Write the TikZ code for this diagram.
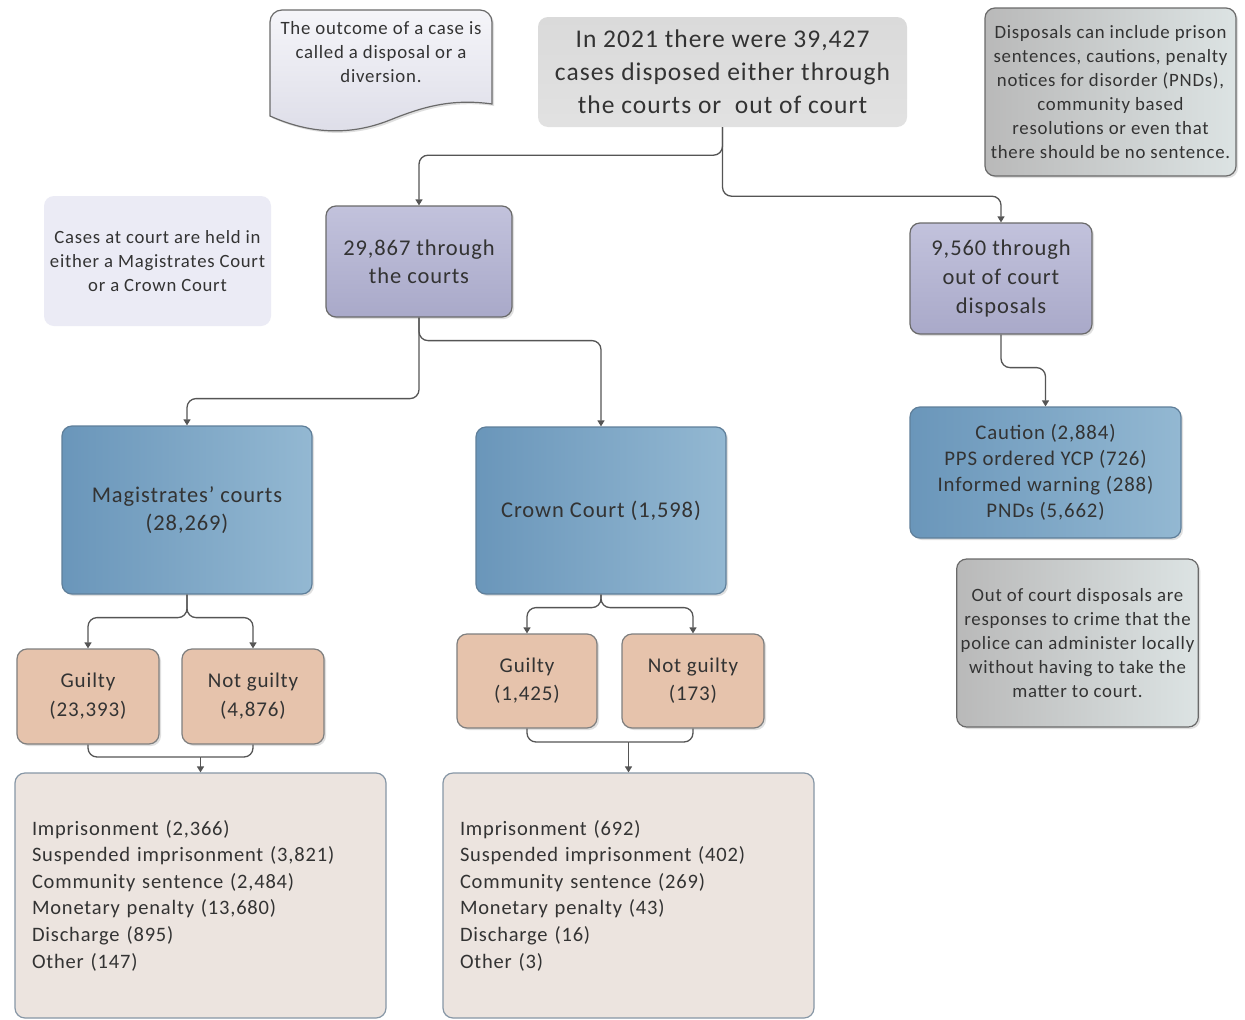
\documentclass[tikz,border=0pt]{standalone}
\usepackage{fontspec}
\setmainfont{Carlito}[LetterSpace=4]
\usetikzlibrary{arrows.meta,shadows,calc}
\definecolor{txt}{HTML}{333333}
\definecolor{linec}{HTML}{555555}
\definecolor{bordc}{HTML}{6A6A6A}
\definecolor{purpA}{HTML}{C2C2DC}
\definecolor{purpB}{HTML}{A9A9C9}
\definecolor{blueA}{HTML}{6A96BA}
\definecolor{blueB}{HTML}{93B8D2}
\definecolor{bluebd}{HTML}{5F7F9A}
\definecolor{peach}{HTML}{E6C3AC}
\definecolor{peachbd}{HTML}{7F7F7F}
\definecolor{greyA}{HTML}{B9B9B9}
\definecolor{greyB}{HTML}{DCE3E3}
\definecolor{listf}{HTML}{ECE4DF}
\definecolor{listbd}{HTML}{8797A6}
\definecolor{topf}{HTML}{DADADA}
\definecolor{leftf}{HTML}{EBEBF5}
\definecolor{docA}{HTML}{DDDDE8}
\definecolor{docB}{HTML}{F5F5F9}
\begin{document}
\begin{tikzpicture}[x=1pt,y=-1pt,
  every node/.style={text=txt, align=center, inner sep=4pt},
  box/.style={rounded corners=10pt, draw=bordc, line width=1.2pt,
     drop shadow={opacity=0.25, shadow xshift=2pt, shadow yshift=-2pt}},
  purplebox/.style={box, top color=purpA, bottom color=purpB},
  bluebox/.style={box, draw=bluebd, left color=blueA, right color=blueB},
  peachbox/.style={box, draw=peachbd, fill=peach},
  greynote/.style={box, draw=bordc, left color=greyA, right color=greyB},
  listbox/.style={rounded corners=10pt, draw=listbd, line width=1.2pt, fill=listf,
     text width=337pt, align=left, inner sep=0pt},
  conn/.style={draw=linec, line width=1.3pt, rounded corners=9pt},
  arr/.style={conn, -{Triangle[width=7pt,length=6pt]}},
]
\useasboundingbox (0,0) rectangle (1245,1020);
\fill[white] (0,0) rectangle (1245,1020);

% document-shaped note
\path[draw=bordc, line width=1.2pt, top color=docB, bottom color=docA,
  drop shadow={opacity=0.25, shadow xshift=2pt, shadow yshift=-2pt}]
  (270,116) {[rounded corners=12pt] -- (270,10) -- (492,10)} -- (492,104)
  .. controls (450,98) and (420,108) .. (390,120)
  .. controls (350,136) and (310,134) .. (270,116) -- cycle;
\node[font=\fontsize{18.8}{24}\selectfont] (docnote) at (381,52)
  {The outcome of a case is\\called a disposal or a\\diversion.};

% top box
\node[rounded corners=10pt, top color=topf, bottom color=topf!80!white,
  minimum width=369pt, minimum height=110pt,
  font=\fontsize{25.5}{33}\selectfont] (top) at (722.5,72)
  {In 2021 there were 39,427\\cases disposed either through\\the courts or\ \ out of court};

% right grey note
\node[greynote, minimum width=251pt, minimum height=168pt,
  font=\fontsize{18.8}{24}\selectfont] (note1) at (1110.5,92)
  {Disposals can include prison\\sentences, cautions, penalty\\notices for disorder (PNDs),\\community based\\resolutions or even that\\there should be no sentence.};

% left note
\node[rounded corners=10pt, fill=leftf, minimum width=227pt, minimum height=130pt,
  font=\fontsize{18.7}{24}\selectfont] (note2) at (157.5,261)
  {Cases at court are held in\\either a Magistrates Court\\or a Crown Court};

% purple boxes
\node[purplebox, minimum width=186pt, minimum height=111pt,
  font=\fontsize{22.5}{28}\selectfont] (court) at (419,261.5)
  {29,867 through\\the courts};
\node[purplebox, minimum width=182pt, minimum height=111pt,
  font=\fontsize{22.5}{29}\selectfont] (ooc) at (1001,278.5)
  {9,560 through\\out of court\\disposals};

% blue boxes
\node[bluebox, minimum width=250pt, minimum height=168pt,
  font=\fontsize{22.5}{28}\selectfont] (mag) at (187,510)
  {Magistrates' courts\\(28,269)};
\node[bluebox, minimum width=250pt, minimum height=167pt,
  font=\fontsize{22.5}{28}\selectfont] (crown) at (601,510.5)
  {Crown Court (1,598)};
\node[bluebox, minimum width=271pt, minimum height=131pt,
  font=\fontsize{20.8}{26}\selectfont] (oocl) at (1045.5,472.5)
  {Caution (2,884)\\PPS ordered YCP (726)\\Informed warning (288)\\PNDs (5,662)};

% peach boxes
\node[peachbox, minimum width=142pt, minimum height=95pt,
  font=\fontsize{21}{29}\selectfont] (g1) at (88,696.5) {Guilty\\(23,393)};
\node[peachbox, minimum width=142pt, minimum height=95pt,
  font=\fontsize{21}{29}\selectfont] (ng1) at (253,696.5) {Not guilty\\(4,876)};
\node[peachbox, minimum width=140pt, minimum height=94pt,
  font=\fontsize{21}{28}\selectfont] (g2) at (527,681) {Guilty\\(1,425)};
\node[peachbox, minimum width=142pt, minimum height=94pt,
  font=\fontsize{21}{28}\selectfont] (ng2) at (693,681) {Not guilty\\(173)};

% out of court note
\node[greynote, minimum width=241pt, minimum height=168pt,
  font=\fontsize{18.8}{24}\selectfont] (note3) at (1077.5,643)
  {Out of court disposals are\\responses to crime that the\\police can administer locally\\without having to take the\\matter to court.};

% list boxes
\node[listbox, minimum width=371pt, minimum height=245pt,
  font=\fontsize{20.5}{26.6}\selectfont] (list1) at (200.5,895.5)
  {Imprisonment (2,366)\\Suspended imprisonment (3,821)\\Community sentence (2,484)\\Monetary penalty (13,680)\\Discharge (895)\\Other (147)};
\node[listbox, minimum width=371pt, minimum height=245pt,
  font=\fontsize{20.5}{26.6}\selectfont] (list2) at (628.5,895.5)
  {Imprisonment (692)\\Suspended imprisonment (402)\\Community sentence (269)\\Monetary penalty (43)\\Discharge (16)\\Other (3)};

% connectors
\draw[arr] (top.south) -- ++(0,28) -| (court.north);
\draw[arr] (top.south) -- ++(0,69) -| (ooc.north);
\draw[arr] (court.south) -- ++(0,23) -| (crown.north);
\draw[arr] (court.south) -- ++(0,81) -| (mag.north);
\draw[arr] (ooc.south) -- ++(0,33) -| (oocl.north);
\draw[arr] (mag.south) -- ++(0,23) -| (g1.north);
\draw[arr] (mag.south) -- ++(0,23) -| (ng1.north);
\draw[arr] (crown.south) -- ++(0,13) -| (g2.north);
\draw[arr] (crown.south) -- ++(0,13) -| (ng2.north);

\coordinate (m1) at (200.5,757);
\coordinate (m2) at (628.5,742);
\draw[conn] (g1.south) |- (m1);
\draw[conn] (ng1.south) |- (m1);
\draw[arr, rounded corners=0pt] (m1) -- (list1.north);
\draw[conn] (g2.south) |- (m2);
\draw[conn] (ng2.south) |- (m2);
\draw[arr, rounded corners=0pt] (m2) -- (list2.north);
\end{tikzpicture}
\end{document}
